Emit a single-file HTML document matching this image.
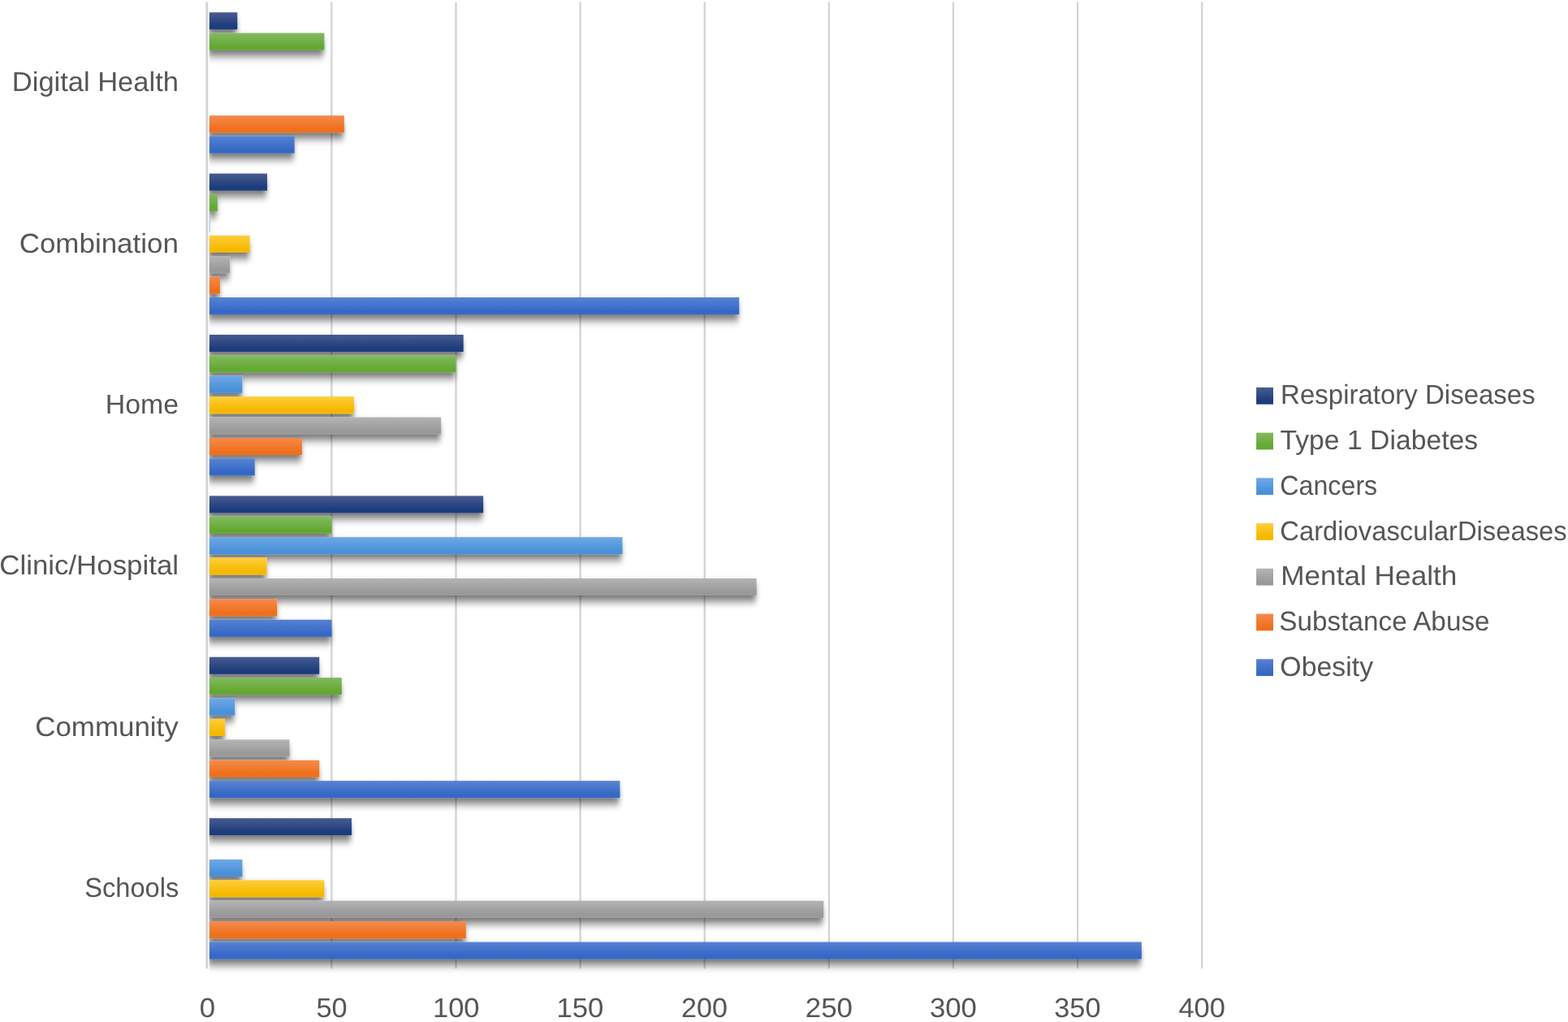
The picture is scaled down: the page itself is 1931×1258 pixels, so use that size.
<!DOCTYPE html>
<html lang="en">
<head>
<meta charset="utf-8">
<title>Interventions by setting and condition</title>
<style>
html,body{margin:0;padding:0;background:#fff;}
body{width:1931px;height:1258px;overflow:hidden;}
svg{display:block;}
text{font-family:"Liberation Sans",sans-serif;font-size:33.5px;fill:#565656;text-rendering:geometricPrecision;}
</style>
</head>
<body>
<svg width="1931" height="1258" viewBox="0 0 1931 1258">
<defs>
<linearGradient id="g-resp" x1="0" y1="0" x2="0" y2="1"><stop offset="0" stop-color="#485c90"/><stop offset="0.8" stop-color="#1d3c7c"/><stop offset="1" stop-color="#1d3c7c"/></linearGradient>
<linearGradient id="g-t1d" x1="0" y1="0" x2="0" y2="1"><stop offset="0" stop-color="#82ba60"/><stop offset="0.8" stop-color="#64a832"/><stop offset="1" stop-color="#64a832"/></linearGradient>
<linearGradient id="g-canc" x1="0" y1="0" x2="0" y2="1"><stop offset="0" stop-color="#6fa8e6"/><stop offset="0.8" stop-color="#4a90d9"/><stop offset="1" stop-color="#4a90d9"/></linearGradient>
<linearGradient id="g-cvd" x1="0" y1="0" x2="0" y2="1"><stop offset="0" stop-color="#ffce3a"/><stop offset="0.8" stop-color="#f5b800"/><stop offset="1" stop-color="#f5b800"/></linearGradient>
<linearGradient id="g-mh" x1="0" y1="0" x2="0" y2="1"><stop offset="0" stop-color="#b4b4b4"/><stop offset="0.8" stop-color="#999999"/><stop offset="1" stop-color="#999999"/></linearGradient>
<linearGradient id="g-sa" x1="0" y1="0" x2="0" y2="1"><stop offset="0" stop-color="#f68a4c"/><stop offset="0.8" stop-color="#ee6f1c"/><stop offset="1" stop-color="#ee6f1c"/></linearGradient>
<linearGradient id="g-ob" x1="0" y1="0" x2="0" y2="1"><stop offset="0" stop-color="#5882d2"/><stop offset="0.8" stop-color="#3568c6"/><stop offset="1" stop-color="#3568c6"/></linearGradient>
<filter id="sh" x="0" y="0" width="1931" height="1258" filterUnits="userSpaceOnUse" primitiveUnits="userSpaceOnUse"><feGaussianBlur in="SourceAlpha" stdDeviation="3.2 5.5"/><feOffset dx="-1.2" dy="7" result="b"/><feComponentTransfer><feFuncA type="linear" slope="0.56"/></feComponentTransfer><feMerge><feMergeNode/><feMergeNode in="SourceGraphic"/></feMerge></filter>
<clipPath id="plotclip"><rect x="257.60" y="0" width="1931" height="1258"/></clipPath>
</defs>
<rect width="1931" height="1258" fill="#ffffff"/>
<g stroke="#d2d2d2" stroke-width="2.2">
<line x1="408.37" y1="2.6" x2="408.37" y2="1192.2"/>
<line x1="561.49" y1="2.6" x2="561.49" y2="1192.2"/>
<line x1="714.61" y1="2.6" x2="714.61" y2="1192.2"/>
<line x1="867.73" y1="2.6" x2="867.73" y2="1192.2"/>
<line x1="1020.85" y1="2.6" x2="1020.85" y2="1192.2"/>
<line x1="1173.97" y1="2.6" x2="1173.97" y2="1192.2"/>
<line x1="1327.09" y1="2.6" x2="1327.09" y2="1192.2"/>
<line x1="1480.21" y1="2.6" x2="1480.21" y2="1192.2"/>
</g>
<line x1="254.8" y1="2.6" x2="254.8" y2="1192.2" stroke="#d2d2d2" stroke-width="2.8"/>
<g clip-path="url(#plotclip)"><g filter="url(#sh)">
<g>
<rect x="257.60" y="15.25" width="34.71" height="21.00" fill="url(#g-resp)"/>
<rect x="257.60" y="40.65" width="141.78" height="21.00" fill="url(#g-t1d)"/>
<rect x="257.60" y="142.25" width="166.26" height="21.00" fill="url(#g-sa)"/>
<rect x="257.60" y="167.65" width="105.07" height="21.00" fill="url(#g-ob)"/>
</g>
<g>
<rect x="257.60" y="213.63" width="71.42" height="21.00" fill="url(#g-resp)"/>
<rect x="257.60" y="239.03" width="10.24" height="21.00" fill="url(#g-t1d)"/>
<rect x="257.60" y="264.43" width="0.80" height="21.00" fill="url(#g-canc)"/>
<rect x="257.60" y="289.83" width="50.01" height="21.00" fill="url(#g-cvd)"/>
<rect x="257.60" y="315.23" width="25.53" height="21.00" fill="url(#g-mh)"/>
<rect x="257.60" y="340.63" width="13.30" height="21.00" fill="url(#g-sa)"/>
<rect x="257.60" y="366.03" width="652.67" height="21.00" fill="url(#g-ob)"/>
</g>
<g>
<rect x="257.60" y="412.01" width="313.10" height="21.00" fill="url(#g-resp)"/>
<rect x="257.60" y="437.41" width="303.92" height="21.00" fill="url(#g-t1d)"/>
<rect x="257.60" y="462.81" width="40.83" height="21.00" fill="url(#g-canc)"/>
<rect x="257.60" y="488.21" width="178.49" height="21.00" fill="url(#g-cvd)"/>
<rect x="257.60" y="513.61" width="285.56" height="21.00" fill="url(#g-mh)"/>
<rect x="257.60" y="539.01" width="114.25" height="21.00" fill="url(#g-sa)"/>
<rect x="257.60" y="564.41" width="56.12" height="21.00" fill="url(#g-ob)"/>
</g>
<g>
<rect x="257.60" y="610.39" width="337.57" height="21.00" fill="url(#g-resp)"/>
<rect x="257.60" y="635.79" width="150.96" height="21.00" fill="url(#g-t1d)"/>
<rect x="257.60" y="661.19" width="508.89" height="21.00" fill="url(#g-canc)"/>
<rect x="257.60" y="686.59" width="70.81" height="21.00" fill="url(#g-cvd)"/>
<rect x="257.60" y="711.99" width="674.08" height="21.00" fill="url(#g-mh)"/>
<rect x="257.60" y="737.39" width="83.66" height="21.00" fill="url(#g-sa)"/>
<rect x="257.60" y="762.79" width="150.96" height="21.00" fill="url(#g-ob)"/>
</g>
<g>
<rect x="257.60" y="808.77" width="135.66" height="21.00" fill="url(#g-resp)"/>
<rect x="257.60" y="834.17" width="163.20" height="21.00" fill="url(#g-t1d)"/>
<rect x="257.60" y="859.57" width="31.65" height="21.00" fill="url(#g-canc)"/>
<rect x="257.60" y="884.97" width="19.41" height="21.00" fill="url(#g-cvd)"/>
<rect x="257.60" y="910.37" width="98.95" height="21.00" fill="url(#g-mh)"/>
<rect x="257.60" y="935.77" width="135.66" height="21.00" fill="url(#g-sa)"/>
<rect x="257.60" y="961.17" width="505.83" height="21.00" fill="url(#g-ob)"/>
</g>
<g>
<rect x="257.60" y="1007.15" width="175.43" height="21.00" fill="url(#g-resp)"/>
<rect x="257.60" y="1057.95" width="40.83" height="21.00" fill="url(#g-canc)"/>
<rect x="257.60" y="1083.35" width="141.78" height="21.00" fill="url(#g-cvd)"/>
<rect x="257.60" y="1108.75" width="756.68" height="21.00" fill="url(#g-mh)"/>
<rect x="257.60" y="1134.15" width="316.16" height="21.00" fill="url(#g-sa)"/>
<rect x="257.60" y="1159.55" width="1148.26" height="21.00" fill="url(#g-ob)"/>
</g>
</g></g>
<g>
<text x="14.82" y="112.30" textLength="205.09" lengthAdjust="spacingAndGlyphs">Digital Health</text>
<text x="23.71" y="310.68" textLength="196.18" lengthAdjust="spacingAndGlyphs">Combination</text>
<text x="129.71" y="509.06" textLength="90.28" lengthAdjust="spacingAndGlyphs">Home</text>
<text x="-0.78" y="707.44" textLength="220.79" lengthAdjust="spacingAndGlyphs">Clinic/Hospital</text>
<text x="43.19" y="905.82" textLength="176.56" lengthAdjust="spacingAndGlyphs">Community</text>
<text x="104.19" y="1104.20" textLength="116.02" lengthAdjust="spacingAndGlyphs">Schools</text>
</g>
<g>
<text x="245.79" y="1251.90" textLength="19.32" lengthAdjust="spacingAndGlyphs">0</text>
<text x="389.46" y="1251.90" textLength="38.20" lengthAdjust="spacingAndGlyphs">50</text>
<text x="533.02" y="1251.90" textLength="57.50" lengthAdjust="spacingAndGlyphs">100</text>
<text x="685.43" y="1251.90" textLength="57.84" lengthAdjust="spacingAndGlyphs">150</text>
<text x="839.10" y="1251.90" textLength="56.80" lengthAdjust="spacingAndGlyphs">200</text>
<text x="991.81" y="1251.90" textLength="58.25" lengthAdjust="spacingAndGlyphs">250</text>
<text x="1144.95" y="1251.90" textLength="57.99" lengthAdjust="spacingAndGlyphs">300</text>
<text x="1298.30" y="1251.90" textLength="57.16" lengthAdjust="spacingAndGlyphs">350</text>
<text x="1451.42" y="1251.90" textLength="57.51" lengthAdjust="spacingAndGlyphs">400</text>
</g>
<g>
<rect x="1547.1" y="476.90" width="20.9" height="20.8" fill="url(#g-resp)"/>
<text x="1577.12" y="497.45" textLength="313.60" lengthAdjust="spacingAndGlyphs">Respiratory Diseases</text>
<rect x="1547.1" y="532.63" width="20.9" height="20.8" fill="url(#g-t1d)"/>
<text x="1576.50" y="553.18" textLength="243.64" lengthAdjust="spacingAndGlyphs">Type 1 Diabetes</text>
<rect x="1547.1" y="588.36" width="20.9" height="20.8" fill="url(#g-canc)"/>
<text x="1576.24" y="608.91" textLength="120.01" lengthAdjust="spacingAndGlyphs">Cancers</text>
<rect x="1547.1" y="644.09" width="20.9" height="20.8" fill="url(#g-cvd)"/>
<text x="1576.26" y="664.64" textLength="353.50" lengthAdjust="spacingAndGlyphs">CardiovascularDiseases</text>
<rect x="1547.1" y="699.82" width="20.9" height="20.8" fill="url(#g-mh)"/>
<text x="1577.16" y="720.37" textLength="217.26" lengthAdjust="spacingAndGlyphs">Mental Health</text>
<rect x="1547.1" y="755.55" width="20.9" height="20.8" fill="url(#g-sa)"/>
<text x="1575.28" y="776.10" textLength="259.36" lengthAdjust="spacingAndGlyphs">Substance Abuse</text>
<rect x="1547.1" y="811.28" width="20.9" height="20.8" fill="url(#g-ob)"/>
<text x="1576.30" y="831.83" textLength="114.79" lengthAdjust="spacingAndGlyphs">Obesity</text>
</g>
</svg>
</body>
</html>
